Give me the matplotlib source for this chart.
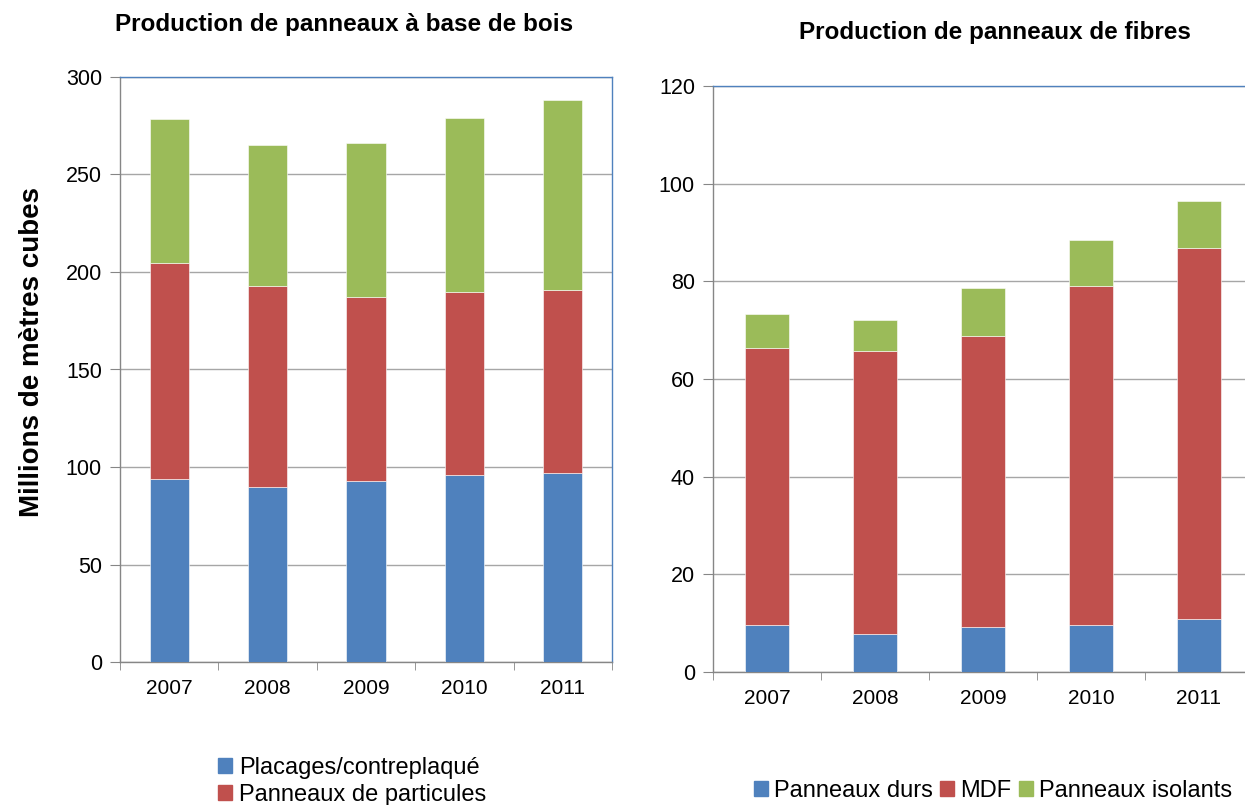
import matplotlib.pyplot as plt
import numpy as np
from matplotlib.patches import Patch

plt.rcParams["font.family"] = ["Liberation Sans", "DejaVu Sans"]

BLUE = "#4f81bd"
RED = "#c0504d"
GREEN = "#9bbb59"
GRID = "#a6a6a6"
AXIS = "#868686"

years = ["2007", "2008", "2009", "2010", "2011"]

# panneaux à base de bois (millions m3)
placages = [93.8, 89.7, 92.8, 95.9, 96.9]
particules = [110.8, 103.1, 94.4, 93.8, 93.9]
fibres = [73.9, 72.3, 79.0, 89.3, 97.4]

# panneaux de fibres
durs = [9.6, 7.8, 9.2, 9.6, 10.9]
mdf = [56.8, 57.9, 59.6, 69.4, 75.9]
isolants = [6.9, 6.4, 9.8, 9.5, 9.7]

fig = plt.figure(figsize=(12.45, 8.05), dpi=100)
W, H = 1245, 805
ax1 = fig.add_axes([120 / W, 1 - 662 / H, 492 / W, 585 / H])
ax2 = fig.add_axes([713 / W, 1 - 672 / H, 540 / W, 586 / H])


def stacked(ax, series, colors, ymax, step):
    x = np.arange(len(years))
    bottom = np.zeros(len(years))
    for vals, c in zip(series, colors):
        ax.bar(x, vals, width=0.4, bottom=bottom, color=c, edgecolor="white",
               linewidth=0.4, zorder=3)
        bottom += np.array(vals)
    ax.set_xlim(-0.5, len(years) - 0.5)
    ax.set_ylim(0, ymax)
    ax.set_yticks(np.arange(0, ymax + 1, step))
    ax.yaxis.grid(True, color=GRID, linewidth=1, zorder=0)
    ax.set_xticks(x)
    ax.set_xticklabels(years)
    ax.set_xticks(np.arange(-0.5, len(years)), minor=True)
    ax.tick_params(axis="x", which="major", length=0, pad=12, labelsize=15)
    ax.tick_params(axis="x", which="minor", length=6, color=AXIS, direction="out")
    ax.tick_params(axis="y", length=7, color=AXIS, labelsize=15.5, pad=6)
    ax.spines["left"].set_color(AXIS)
    ax.spines["bottom"].set_color(AXIS)
    ax.spines["top"].set_color(BLUE)
    ax.spines["right"].set_color(BLUE)
    for s in ax.spines.values():
        s.set_linewidth(1)


stacked(ax1, [placages, particules, fibres], [BLUE, RED, GREEN], 300, 50)
stacked(ax2, [durs, mdf, isolants], [BLUE, RED, GREEN], 120, 20)

fig.text(344 / W, 1 - 25 / H, "Production de panneaux à base de bois",
         ha="center", va="center", fontsize=17.5, fontweight="bold")
fig.text(995 / W, 1 - 32 / H, "Production de panneaux de fibres",
         ha="center", va="center", fontsize=17.5, fontweight="bold")
fig.text(32 / W, 1 - 352 / H, "Millions de mètres cubes", rotation=90,
         ha="center", va="center", fontsize=20, fontweight="bold")

leg1 = fig.legend(handles=[Patch(color=BLUE, label="Placages/contreplaqué"),
                           Patch(color=RED, label="Panneaux de particules")],
                  loc="upper left", bbox_to_anchor=(206 / W, 1 - 745 / H),
                  frameon=False, fontsize=17, handlelength=0.6, handleheight=0.6,
                  handletextpad=0.3, labelspacing=0.2, borderpad=0)
leg2 = fig.legend(handles=[Patch(color=BLUE, label="Panneaux durs"),
                           Patch(color=RED, label="MDF"),
                           Patch(color=GREEN, label="Panneaux isolants")],
                  loc="center", bbox_to_anchor=(993 / W, 1 - 791 / H), ncol=3,
                  frameon=False, fontsize=17, handlelength=0.6, handleheight=0.6,
                  handletextpad=0.25, columnspacing=0.3, borderpad=0)

fig.savefig("out.png", dpi=100)
